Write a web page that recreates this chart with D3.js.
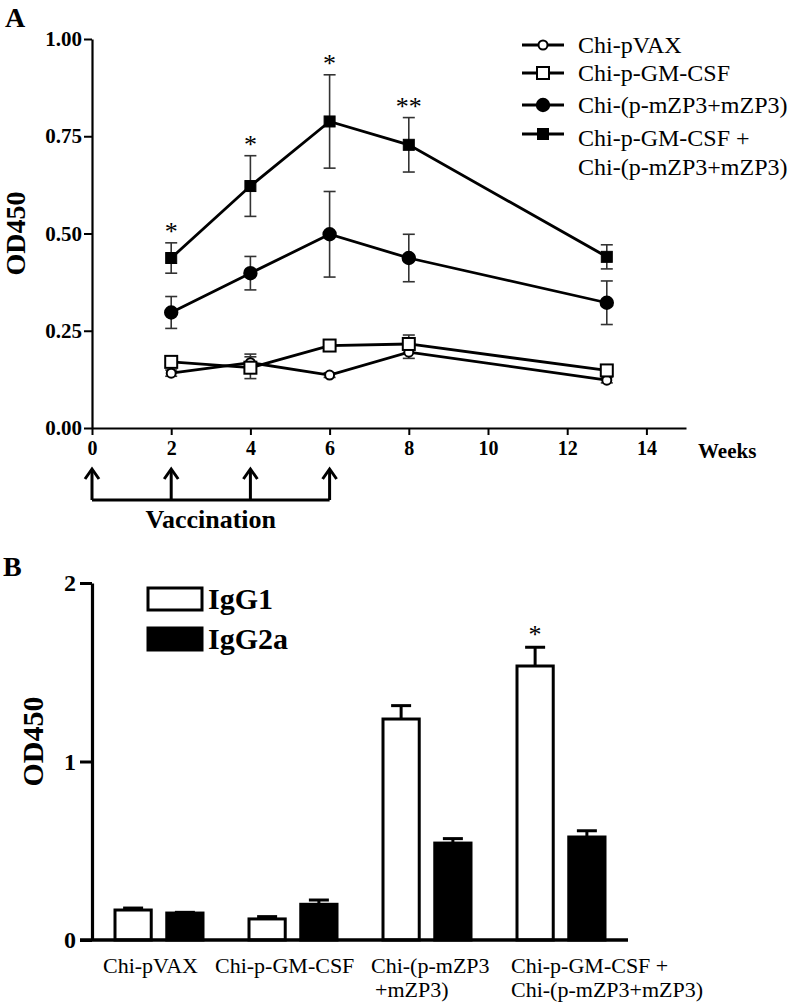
<!DOCTYPE html>
<html><head><meta charset="utf-8">
<script src="https://cdn.jsdelivr.net/npm/d3@7"></script>
<style>
html,body{margin:0;padding:0;background:#fff;}
svg{display:block;font-family:"Liberation Serif","Times New Roman",serif;}
</style></head>
<body>
<svg id="chart" width="792" height="1006"></svg>
<script>
// ---------- Panel A data ----------
const weeks = [2, 4, 6, 8, 13];
const weekTicks = [0, 2, 4, 6, 8, 10, 12, 14];
const odTicksA = [0, 0.25, 0.5, 0.75, 1.0];
const vaccinationWeeks = [0, 2, 4, 6];
const seriesNames = ["Chi-pVAX", "Chi-p-GM-CSF", "Chi-(p-mZP3+mZP3)", "Chi-p-GM-CSF + Chi-(p-mZP3+mZP3)"];
const pVAX = [0.141, 0.168, 0.136, 0.195, 0.123];
const pVAXErr = [0.008, 0.022, 0.006, 0.016, 0.007];
const gmcsf = [0.170, 0.155, 0.212, 0.216, 0.148];
const gmcsfErr = [0.010, 0.028, 0.010, 0.023, 0.009];
const zp3 = [0.297, 0.398, 0.498, 0.437, 0.322];
const zp3Err = [0.041, 0.043, 0.110, 0.061, 0.056];
const combo = [0.437, 0.622, 0.788, 0.728, 0.440];
const comboErr = [0.039, 0.078, 0.120, 0.070, 0.031];
const comboStars = ["*", "*", "*", "**", ""];

// ---------- Panel B data ----------
const groups = ["Chi-pVAX", "Chi-p-GM-CSF", "Chi-(p-mZP3+mZP3)", "Chi-p-GM-CSF + Chi-(p-mZP3+mZP3)"];
const groupLabelLines = [["Chi-pVAX"], ["Chi-p-GM-CSF"], ["Chi-(p-mZP3", "+mZP3)"], ["Chi-p-GM-CSF +", "Chi-(p-mZP3+mZP3)"]];
const igg1 = [0.168, 0.118, 1.238, 1.535];
const igg1Err = [0.011, 0.013, 0.075, 0.105];
const igg2a = [0.151, 0.200, 0.543, 0.577];
const igg2aErr = [0.004, 0.024, 0.025, 0.035];
const igg1Stars = ["", "", "", "*"];
const odTicksB = [0, 1, 2];
const subgroups = ["IgG1", "IgG2a"];

// ---------- layout ----------
const svg = d3.select("#chart");
const serif = '"Liberation Serif","Times New Roman",serif';

// Panel A
const xA = d3.scaleLinear().domain([0, 15]).range([92, 686]);
const yA = d3.scaleLinear().domain([0, 1]).range([428, 39]);

svg.append("text").attr("x", 5).attr("y", 27).attr("font-size", 28).attr("font-weight", "bold").text("A");

const gyA = svg.append("g").attr("transform", `translate(${xA(0)},0)`)
  .call(d3.axisLeft(yA).tickValues(odTicksA).tickFormat(d3.format(".2f")).tickSize(8).tickSizeOuter(0).tickPadding(2));
const gxA = svg.append("g").attr("transform", `translate(0,${yA(0)})`)
  .call(d3.axisBottom(xA).tickValues(weekTicks).tickFormat(d3.format("d")).tickSize(7).tickSizeOuter(0).tickPadding(6));
[gyA, gxA].forEach(g => {
  g.select(".domain").attr("stroke", "#000").attr("stroke-width", 2.2);
  g.selectAll(".tick line").attr("stroke", "#000").attr("stroke-width", 2);
  g.selectAll(".tick text").attr("fill", "#000").attr("font-family", serif).attr("font-weight", "bold").attr("font-size", 21);
});
gxA.selectAll(".tick text").attr("font-size", 20);

svg.append("text").attr("x", 698).attr("y", yA(0) + 30).attr("font-size", 21).attr("font-weight", "bold").text("Weeks");

svg.append("text").attr("transform", `translate(25,${(yA(0) + yA(1)) / 2 + 0}) rotate(-90)`)
  .attr("text-anchor", "middle").attr("font-size", 28).attr("font-weight", "bold").text("OD450");

// vaccination arrows
const vacY0 = 469, vacY1 = 500;
vaccinationWeeks.forEach(w => {
  const x = xA(w);
  svg.append("line").attr("x1", x).attr("x2", x).attr("y1", vacY0 + 1).attr("y2", vacY1).attr("stroke", "#000").attr("stroke-width", 3);
  svg.append("path").attr("d", `M${x - 7},${vacY0 + 10}L${x},${vacY0}L${x + 7},${vacY0 + 10}`)
    .attr("fill", "none").attr("stroke", "#000").attr("stroke-width", 3);
});
svg.append("line").attr("x1", xA(vaccinationWeeks[0])).attr("x2", xA(vaccinationWeeks[vaccinationWeeks.length - 1]))
  .attr("y1", vacY1).attr("y2", vacY1).attr("stroke", "#000").attr("stroke-width", 3);
svg.append("text").attr("x", (xA(0) + xA(6)) / 2).attr("y", 528).attr("text-anchor", "middle")
  .attr("font-size", 26).attr("font-weight", "bold").text("Vaccination");

const seriesA = [
  { name: seriesNames[0], vals: pVAX, err: pVAXErr, shape: "circle", fill: "#fff", size: 4.5 },
  { name: seriesNames[1], vals: gmcsf, err: gmcsfErr, shape: "square", fill: "#fff", size: 12 },
  { name: seriesNames[2], vals: zp3, err: zp3Err, shape: "circle", fill: "#000", size: 6.2 },
  { name: seriesNames[3], vals: combo, err: comboErr, shape: "square", fill: "#000", size: 11 },
];

function drawMarker(g, shape, cx, cy, size, fill) {
  if (shape === "circle") {
    g.append("circle").attr("cx", cx).attr("cy", cy).attr("r", size).attr("fill", fill).attr("stroke", "#000").attr("stroke-width", 2);
  } else {
    g.append("rect").attr("x", cx - size / 2).attr("y", cy - size / 2).attr("width", size).attr("height", size)
      .attr("fill", fill).attr("stroke", "#000").attr("stroke-width", fill === "#000" ? 1 : 2);
  }
}

const line = d3.line().x(d => xA(d[0])).y(d => yA(d[1]));
// error bars
seriesA.forEach(s => {
  const g = svg.append("g");
  weeks.forEach((w, i) => {
    const x = xA(w), y1 = yA(s.vals[i] + s.err[i]), y2 = yA(s.vals[i] - s.err[i]);
    g.append("line").attr("x1", x).attr("x2", x).attr("y1", y1).attr("y2", y2).attr("stroke", "#333").attr("stroke-width", 1.6);
    [y1, y2].forEach(y => g.append("line").attr("x1", x - 6).attr("x2", x + 6).attr("y1", y).attr("y2", y).attr("stroke", "#333").attr("stroke-width", 1.6));
  });
});
// lines
seriesA.forEach(s => {
  svg.append("path").datum(weeks.map((w, i) => [w, s.vals[i]])).attr("d", line)
    .attr("fill", "none").attr("stroke", "#000").attr("stroke-width", 2.8);
});
// markers
seriesA.forEach(s => {
  const g = svg.append("g");
  weeks.forEach((w, i) => drawMarker(g, s.shape, xA(w), yA(s.vals[i]), s.size, s.fill));
});
// stars
weeks.forEach((w, i) => {
  if (!comboStars[i]) return;
  svg.append("text").attr("x", xA(w)).attr("y", yA(combo[i] + comboErr[i]) - 3)
    .attr("text-anchor", "middle").attr("font-size", 26).text(comboStars[i]);
});

// legend A
const legA = svg.append("g");
const legRowsY = [45, 73, 105, 134];
const legTextRows = [[seriesNames[0]], [seriesNames[1]], [seriesNames[2]], ["Chi-p-GM-CSF +", "Chi-(p-mZP3+mZP3)"]];
seriesA.forEach((s, i) => {
  const y = legRowsY[i];
  legA.append("line").attr("x1", 522).attr("x2", 564).attr("y1", y).attr("y2", y).attr("stroke", "#000").attr("stroke-width", 2.8);
  drawMarker(legA, s.shape, 543, y, s.size, s.fill);
  legTextRows[i].forEach((t, j) => {
    legA.append("text").attr("x", 578).attr("y", y + 8 + (i === 3 ? 4 : 0) + j * 29).attr("font-size", 24).text(t);
  });
});

// ---------- Panel B ----------
const xB = d3.scaleBand().domain(groups).range([92, 628]);
const yB = d3.scaleLinear().domain([0, 2]).range([940, 583]);
const xSub = d3.scaleBand().domain(subgroups).range([-44, 44]).paddingInner(0.3);

svg.append("text").attr("x", 3).attr("y", 576).attr("font-size", 28).attr("font-weight", "bold").text("B");

// bars
groups.forEach((gname, i) => {
  const cx = xB(gname) + xB.bandwidth() / 2;
  const vals = [igg1[i], igg2a[i]], errs = [igg1Err[i], igg2aErr[i]];
  subgroups.forEach((sg, k) => {
    const x0 = cx + xSub(sg), w = xSub.bandwidth();
    const yTop = yB(vals[k]);
    const yErr = yB(vals[k] + errs[k]);
    const xm = x0 + w / 2;
    svg.append("line").attr("x1", xm).attr("x2", xm).attr("y1", yTop).attr("y2", yErr).attr("stroke", "#000").attr("stroke-width", 3);
    svg.append("line").attr("x1", xm - 10).attr("x2", xm + 10).attr("y1", yErr).attr("y2", yErr).attr("stroke", "#000").attr("stroke-width", 3);
    svg.append("rect").attr("x", x0).attr("y", yTop).attr("width", w).attr("height", yB(0) - yTop)
      .attr("fill", k === 0 ? "#fff" : "#000").attr("stroke", "#000").attr("stroke-width", 3);
  });
  if (igg1Stars[i]) {
    svg.append("text").attr("x", cx + xSub("IgG1") + xSub.bandwidth() / 2).attr("y", yB(igg1[i] + igg1Err[i]) - 4)
      .attr("text-anchor", "middle").attr("font-size", 26).text(igg1Stars[i]);
  }
});

const gyB = svg.append("g").attr("transform", `translate(${xB.range()[0]},0)`)
  .call(d3.axisLeft(yB).tickValues(odTicksB).tickFormat(d3.format("d")).tickSize(12).tickSizeOuter(0).tickPadding(4));
gyB.select(".domain").attr("stroke", "#000").attr("stroke-width", 3.2);
gyB.selectAll(".tick line").attr("stroke", "#000").attr("stroke-width", 3);
gyB.selectAll(".tick text").attr("fill", "#000").attr("font-family", serif).attr("font-weight", "bold").attr("font-size", 24);
svg.append("line").attr("x1", 80).attr("x2", xB.range()[1]).attr("y1", yB(0)).attr("y2", yB(0)).attr("stroke", "#000").attr("stroke-width", 3.4);

svg.append("text").attr("transform", `translate(43,${(yB(0) + yB(2)) / 2 - 20}) rotate(-90)`)
  .attr("text-anchor", "middle").attr("font-size", 30).attr("font-weight", "bold").text("OD450");

// category labels
const labelDx = [-56, -78, -56, -50];
groups.forEach((gname, i) => {
  const cx = xB(gname) + xB.bandwidth() / 2;
  groupLabelLines[i].forEach((t, j) => {
    svg.append("text").attr("x", cx + labelDx[i] + (i === 2 && j === 1 ? 4 : 0)).attr("y", 973 + j * 24)
      .attr("font-size", 22).text(t);
  });
});

// legend B
const legB = svg.append("g");
subgroups.forEach((sg, k) => {
  const y = 588 + k * 40;
  legB.append("rect").attr("x", 148).attr("y", y).attr("width", 54).attr("height", 22)
    .attr("fill", k === 0 ? "#fff" : "#000").attr("stroke", "#000").attr("stroke-width", 3);
  legB.append("text").attr("x", 208).attr("y", y + 21).attr("font-size", 30).attr("font-weight", "bold").text(sg);
});
</script>
</body></html>
